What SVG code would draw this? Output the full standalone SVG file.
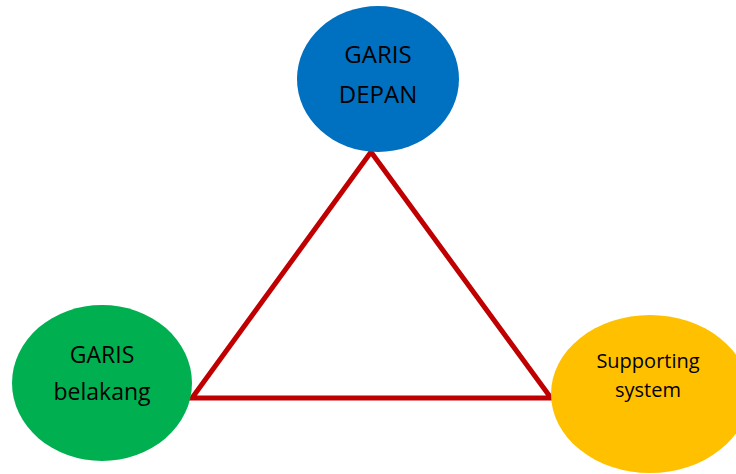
<svg xmlns="http://www.w3.org/2000/svg" width="736" height="474" viewBox="0 0 736 474">
<style>
.t{font-family:"Open Sans","Liberation Sans",sans-serif;fill:#000;text-anchor:middle}
</style>
<rect width="736" height="474" fill="#fff"/>
<g id="connectors">
<polygon points="371,152 192,398 551,398" fill="none" stroke="#C00000" stroke-width="5" stroke-linejoin="miter"/>
</g>
<g id="garis-depan">
<ellipse cx="378" cy="79" rx="81" ry="73" fill="#0070C0"/>
<text class="t" x="378" y="63" font-size="24">GARIS</text>
<text class="t" x="378" y="103" font-size="24">DEPAN</text>
</g>
<g id="garis-belakang">
<ellipse cx="102" cy="383" rx="90" ry="78" fill="#00B050"/>
<text class="t" x="102" y="363" font-size="23">GARIS</text>
<text class="t" x="102" y="400" font-size="23">belakang</text>
</g>
<g id="supporting-system">
<ellipse cx="650" cy="394" rx="99" ry="79" fill="#FFC000"/>
<text class="t" x="648" y="368" font-size="20">Supporting</text>
<text class="t" x="648" y="397" font-size="20">system</text>
</g>
</svg>
